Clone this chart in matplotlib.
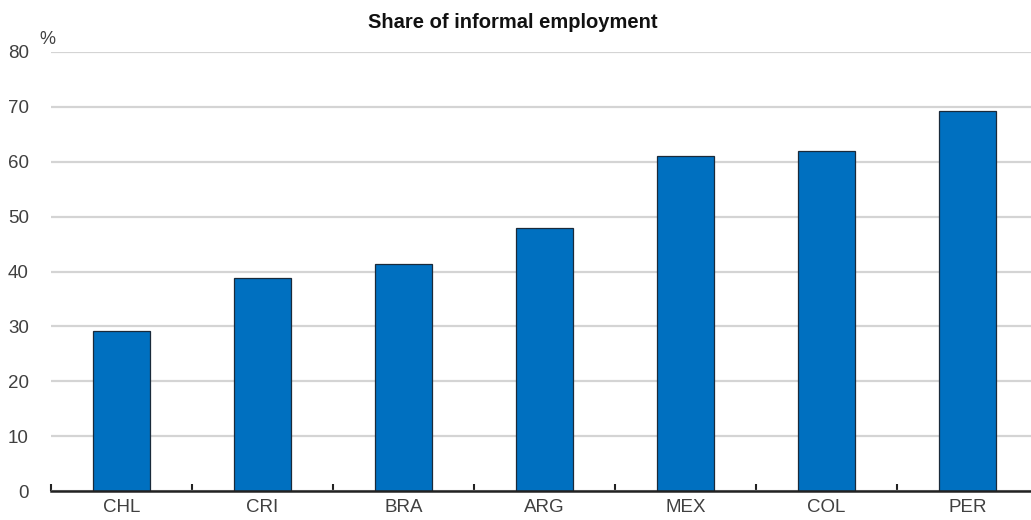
import matplotlib

matplotlib.use("Agg")
import matplotlib.pyplot as plt
from matplotlib import font_manager

# ── data ───────────────────────────────────────────────────────────────────────
countries = ["CHL", "CRI", "BRA", "ARG", "MEX", "COL", "PER"]
informal_share = [29.1, 38.8, 41.3, 47.9, 61.0, 61.9, 69.2]
y_ticks = [0, 10, 20, 30, 40, 50, 60, 70, 80]

_names = {f.name for f in font_manager.fontManager.ttflist}
_FONT = "Liberation Sans Narrow" if "Liberation Sans Narrow" in _names else "Liberation Sans"
plt.rcParams["font.family"] = [_FONT, "DejaVu Sans"]

_BAR = "#0070C0"
_GRID = "#d4d4d4"
_TXT = "#404040"

fig = plt.figure(figsize=(10.31, 5.20), dpi=100)
ax = fig.add_axes([51 / 1031, 29 / 520, (1038 - 51) / 1031, (491 - 52) / 520])

x = list(range(len(countries)))
ax.bar(x, informal_share, width=0.4, color=_BAR, edgecolor="#1a2a3a", linewidth=0.9, zorder=3)

ax.set_xlim(-0.5, len(countries) - 0.5)
ax.set_ylim(0, 80)
ax.set_yticks(y_ticks)
ax.yaxis.grid(True, color=_GRID, linewidth=1.6, zorder=0)
ax.tick_params(axis="y", length=0, labelsize=13.5, labelcolor=_TXT, pad=16)

ax.set_xticks(x)
ax.set_xticklabels(countries)
ax.tick_params(axis="x", length=0, labelsize=13.5, labelcolor=_TXT, pad=6)
# boundary ticks between categories
ax.set_xticks([i - 0.5 for i in range(len(countries) + 1)], minor=True)
ax.tick_params(axis="x", which="minor", direction="in", length=5, width=1.5, color="#222222")

for side in ("left", "right", "top"):
    ax.spines[side].set_visible(False)
ax.spines["bottom"].set_color("#222222")
ax.spines["bottom"].set_linewidth(1.8)
ax.spines["bottom"].set_zorder(4)

fig.text(47 / 1031, 1 - 40 / 520, "%", fontsize=13, color=_TXT, ha="center", va="center")
fig.text(513 / 1031, 1 - 22 / 520, "Share of informal employment", fontsize=14.5,
         fontweight="bold", color="#111111", ha="center", va="center")

fig.savefig("out.png", dpi=100)
